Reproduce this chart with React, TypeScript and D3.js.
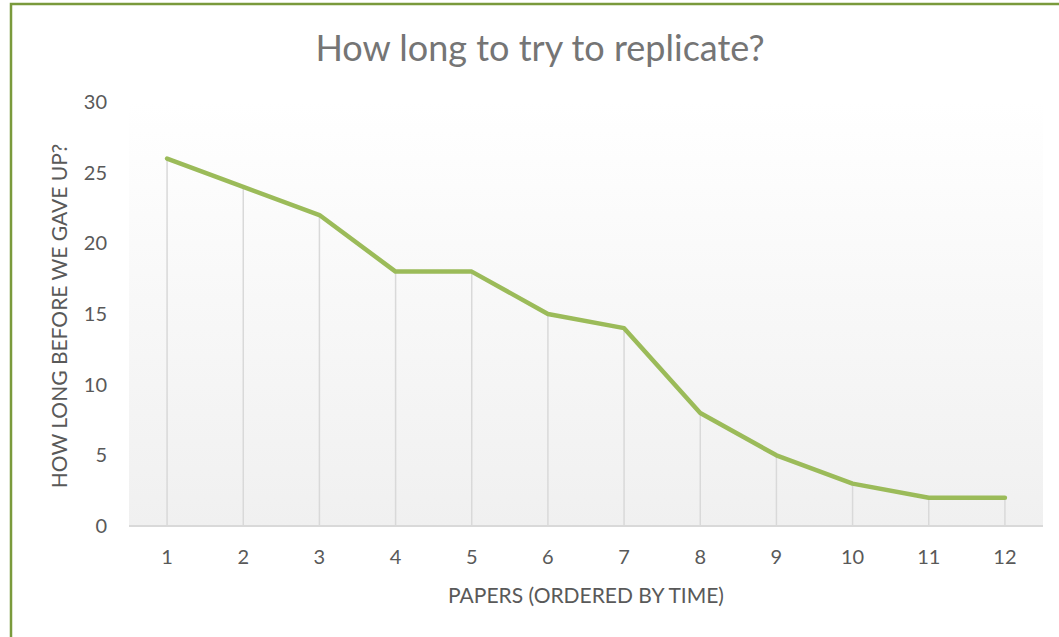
import React from 'react';
import * as d3 from 'd3';

const papers = ['1', '2', '3', '4', '5', '6', '7', '8', '9', '10', '11', '12'];
const monthsTried = [26, 24, 22, 18, 18, 15, 14, 8, 5, 3, 2, 2];
const yTicks = [0, 5, 10, 15, 20, 25, 30];

const title = 'How long to try to replicate?';
const xTitle = 'PAPERS (ORDERED BY TIME)';
const yTitle = 'HOW LONG BEFORE WE GAVE UP?';

const W = 1059;
const H = 637;
const plot = { left: 129, right: 1043, top: 102, bottom: 526 };
const textColor = '#595959';
const font = 'Lato, "Open Sans", sans-serif';

export default function App() {
  const x = d3.scalePoint<string>()
    .domain(papers)
    .range([plot.left, plot.right])
    .padding(0.5);

  const y = d3.scaleLinear()
    .domain([0, 30])
    .range([plot.bottom, plot.top]);

  const pts = papers.map((p, i) => ({ p, v: monthsTried[i] }));

  const linePath = d3.line<{ p: string; v: number }>()
    .x(d => x(d.p) as number)
    .y(d => y(d.v))(pts);

  return (
    <svg width={W} height={H} style={{ position: 'absolute', left: 0, top: 0, background: '#fff' }}>
      <defs>
        <linearGradient id="plotBg" x1="0" y1="0" x2="0" y2="1">
          <stop offset="0" stopColor="#ffffff" />
          <stop offset="1" stopColor="#f0f0f0" />
        </linearGradient>
      </defs>

      {/* outer frame */}
      <path d={`M11,${H} V4 H${W}`} fill="none" stroke="#7a9a3c" strokeWidth={2.5} />

      <text x={540} y={61} textAnchor="middle" fontFamily={font} fontSize={36} fill="#757575">
        {title}
      </text>

      <rect x={plot.left} y={plot.top} width={plot.right - plot.left} height={plot.bottom - plot.top} fill="url(#plotBg)" />

      {/* drop lines */}
      {pts.map(d => (
        <line key={d.p} x1={x(d.p)} x2={x(d.p)} y1={y(d.v)} y2={y(0)} stroke="#d9d9d9" strokeWidth={1.5} />
      ))}

      <line x1={plot.left} x2={plot.right} y1={y(0)} y2={y(0)} stroke="#d9d9d9" strokeWidth={2} />

      <path d={linePath ?? ''} fill="none" stroke="#9bbb59" strokeWidth={4.5} strokeLinejoin="round" strokeLinecap="round" />

      {yTicks.map(t => (
        <text key={t} x={107} y={y(t) + 7} textAnchor="end" fontFamily={font} fontSize={20} fill={textColor}>
          {t}
        </text>
      ))}

      {papers.map(p => (
        <text key={p} x={x(p)} y={564} textAnchor="middle" fontFamily={font} fontSize={20} fill={textColor}>
          {p}
        </text>
      ))}

      <text x={(plot.left + plot.right) / 2} y={603} textAnchor="middle" fontFamily={font} fontSize={21} fill={textColor}>
        {xTitle}
      </text>

      <text transform={`translate(67,316) rotate(-90)`} textAnchor="middle" fontFamily={font} fontSize={21} fill={textColor}>
        {yTitle}
      </text>
    </svg>
  );
}
